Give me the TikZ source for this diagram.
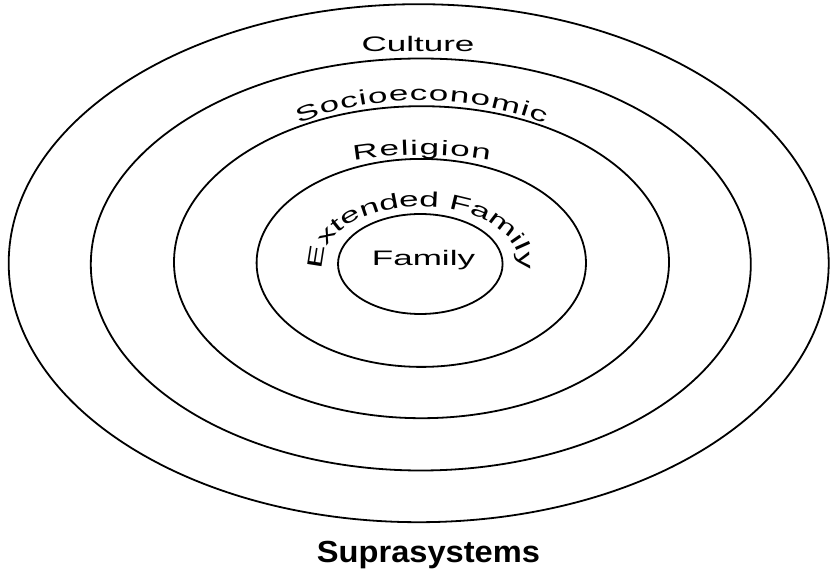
\documentclass[tikz,border=0pt]{standalone}
\usepackage{fontspec}
\setmainfont{Liberation Sans}
\newfontfamily\widefont[FakeStretch=1.667]{Liberation Sans}
\newfontfamily\capfont[FakeStretch=1.07]{Liberation Sans Bold}
\usetikzlibrary{decorations.text}
\newcommand\lblf{\widefont\fontsize{21}{25}\selectfont}
\tikzset{
  ring/.style={draw=black, line width=1.8pt},
  lbl/.style={font=\lblf, inner sep=0pt, anchor=base},
  curvelbl/.style={decorate, decoration={text along path, text align=center, text={|\lblf|#1}}},
  curvesp/.style 2 args={decorate, decoration={text along path, text align=center, text={|\lblf\kern#1|#2}}}
}
\begin{document}
\begin{tikzpicture}[x=1pt,y=1pt]
\useasboundingbox (0,0) rectangle (831,576);
\fill[white] (0,0) rectangle (831,576);
\coordinate (c) at (421,312.5);
% rings
\draw[ring] (420.3,312) ellipse [x radius=82.3pt, y radius=50pt];
\draw[ring] (421.3,313.1) ellipse [x radius=164.7pt, y radius=104pt];
\draw[ring] (421.5,313.8) ellipse [x radius=247.5pt, y radius=156pt];
\draw[ring] (420.8,311.5) ellipse [x radius=330pt, y radius=206pt];
\draw[ring] (418.7,312.8) ellipse [x radius=410pt, y radius=259pt];
% straight labels
\node[lbl] (culture) at (418,524.3) {Culture};
\node[lbl] (family) at (423.5,310.3) {Family};
\node[inner sep=0pt, anchor=base, font=\capfont\fontsize{30.5}{34}\selectfont] (supra) at (428.5,13) {Suprasystems};
% curved labels
\path[curvesp={1.2pt}{Socioeconomic}] ([shift={(165:240pt and 163pt)}]c) arc[start angle=165, end angle=15, x radius=240pt, y radius=163pt];
\path[curvesp={1.5pt}{Religion}] ([shift={(150:215pt and 108.5pt)}]c) arc[start angle=150, end angle=30, x radius=215pt, y radius=108.5pt];
\path[curvelbl={Extended Family}] ([shift={(215:98pt and 57pt)}]c) arc[start angle=215, end angle=-35, x radius=98pt, y radius=57pt];
\end{tikzpicture}
\end{document}
